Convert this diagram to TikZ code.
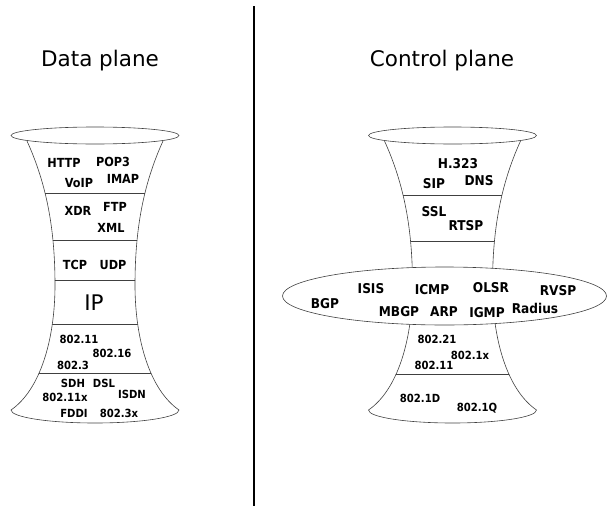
\documentclass[tikz,border=0pt]{standalone}
\usepackage{fontspec}
\setmainfont{DejaVu Sans}
\newfontfamily\protofont{DejaVu Sans Condensed}
\newcommand\glassbody{(-68,-141) .. controls (-48,-185) and (-40,-230) .. (-40,-285)
  .. controls (-40,-340) and (-55,-390) .. (-84,-410)
  arc [start angle=180, end angle=360, x radius=84, y radius=13]
  .. controls (55,-390) and (40,-340) .. (40,-285)
  .. controls (40,-230) and (48,-185) .. (68,-141)}
\begin{document}
\begin{tikzpicture}[x=1pt, y=1pt,
	glass/.style={draw=black!75, line width=0.6pt},
	proto/.style={anchor=base, inner sep=0pt, font=\protofont\bfseries\fontsize{12.5}{15}\selectfont},
	ctrlproto/.style={proto, font=\protofont\bfseries\fontsize{13.5}{16}\selectfont},
	linkproto/.style={proto, font=\protofont\bfseries\fontsize{11.2}{13}\selectfont},
	title/.style={anchor=base, inner sep=0pt, font=\fontsize{21.5}{26}\selectfont}]
		\useasboundingbox (0,0) rectangle (607,-506);
		\draw [line width=2.5pt] (254,-6) to (254,-506);

		\node [title] (datatitle) at (100,-66) {Data plane};
		\node [title] (ctrltitle) at (442,-66) {Control plane};

		% data plane glass
		\begin{scope}[shift={(95,0)}]
			\draw [glass] (0,-135.5) ellipse [x radius=84, y radius=8.5];
			\draw [glass] \glassbody;
			\begin{scope}
				\clip \glassbody;
				\foreach \y in {193,240,280,324,373}
					\draw [glass] (-90,-\y) to (90,-\y);
			\end{scope}
		\end{scope}

		% control plane glass
		\begin{scope}[shift={(452.5,0)}]
			\draw [glass] (0,-135.5) ellipse [x radius=84, y radius=8.5];
			\draw [glass] \glassbody;
			\begin{scope}
				\clip \glassbody;
				\foreach \y in {195,241,374}
					\draw [glass] (-90,-\y) to (90,-\y);
			\end{scope}
		\end{scope}
		\draw [glass, fill=white] (444.5,-296) ellipse [x radius=162, y radius=29];

		\node [proto] (http) at (64,-167) {HTTP};
		\node [proto] (pop) at (113,-166) {POP3};
		\node [proto] (voip) at (79,-187) {VoIP};
		\node [proto] (imap) at (123,-183) {IMAP};
		\node [proto] (xdr) at (78,-215) {XDR};
		\node [proto] (ftp) at (115,-211) {FTP};
		\node [proto] (xml) at (111,-232) {XML};
		\node [proto] (tcp) at (75,-269) {TCP};
		\node [proto] (udp) at (113,-269) {UDP};
		\node [title] (ip) at (94,-310) {IP};
		\node [linkproto] (wifi) at (79,-343) {802.11};
		\node [linkproto] (wimax) at (112,-357) {802.16};
		\node [linkproto] (eth) at (73,-369) {802.3};
		\node [linkproto] (sdh) at (73,-387) {SDH};
		\node [linkproto] (dsl) at (104,-387) {DSL};
		\node [linkproto] (wifix) at (65,-401) {802.11x};
		\node [linkproto] (isdn) at (132,-398) {ISDN};
		\node [linkproto] (fddi) at (74,-417) {FDDI};
		\node [linkproto] (ethx) at (119,-417) {802.3x};

		\node [ctrlproto] (h323) at (458,-168) {H.323};
		\node [ctrlproto] (sip) at (434,-188) {SIP};
		\node [ctrlproto] (dns) at (479,-185) {DNS};
		\node [ctrlproto] (ssl) at (434,-216) {SSL};
		\node [ctrlproto] (rtsp) at (466,-230) {RTSP};
		\node [ctrlproto] (isis) at (371,-293) {ISIS};
		\node [ctrlproto] (icmp) at (432,-294) {ICMP};
		\node [ctrlproto] (olsr) at (491,-292) {OLSR};
		\node [ctrlproto] (rvsp) at (558,-295) {RVSP};
		\node [ctrlproto] (bgp) at (325,-308) {BGP};
		\node [ctrlproto] (mbgp) at (399,-316) {MBGP};
		\node [ctrlproto] (arp) at (444,-316) {ARP};
		\node [ctrlproto] (igmp) at (487,-317) {IGMP};
		\node [ctrlproto] (radius) at (535,-313) {Radius};
		\node [linkproto] (mih) at (437,-343) {802.21};
		\node [linkproto] (auth) at (470,-359) {802.1x};
		\node [linkproto] (wlan) at (434,-369) {802.11};
		\node [linkproto] (bridge) at (420,-402) {802.1D};
		\node [linkproto] (vlan) at (477,-411) {802.1Q};
	\end{tikzpicture}
\end{document}
